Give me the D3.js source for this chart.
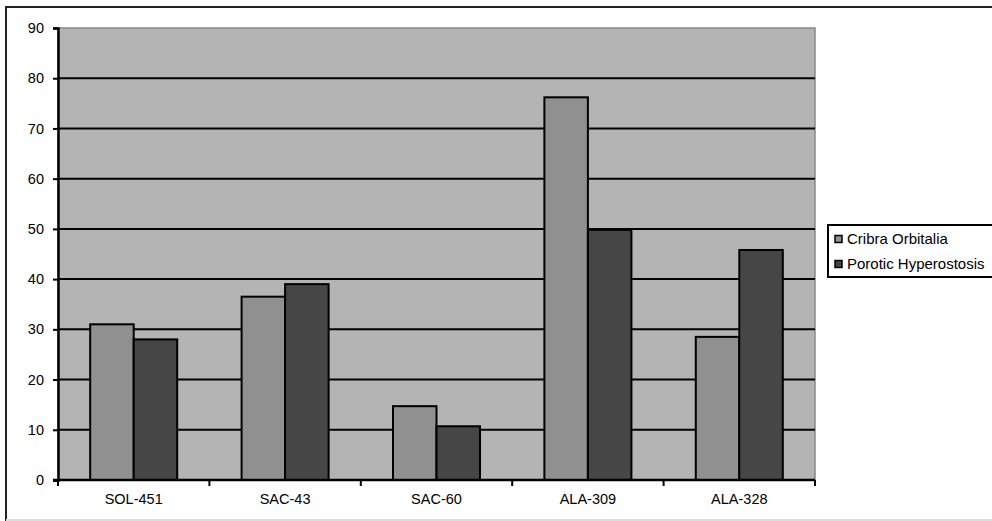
<!DOCTYPE html>
<html>
<head>
<meta charset="utf-8">
<script src="https://cdn.jsdelivr.net/npm/d3@7"></script>
<style>
  html, body { margin: 0; padding: 0; background: #ffffff; }
  svg { display: block; }
  text { font-family: "Liberation Sans", Arial, sans-serif; fill: #000; }
</style>
</head>
<body>
<svg id="chart" width="992" height="521"></svg>
<script>
// Sites and prevalence (%) of the two lesions
const sites = ["SOL-451", "SAC-43", "SAC-60", "ALA-309", "ALA-328"];
const seriesNames = ["Cribra Orbitalia", "Porotic Hyperostosis"];
const cribraOrbitalia = [31, 36.5, 14.7, 76.2, 28.5];
const poroticHyperostosis = [28, 39, 10.7, 49.8, 45.8];
const yTicks = [0, 10, 20, 30, 40, 50, 60, 70, 80, 90];

const seriesValues = [cribraOrbitalia, poroticHyperostosis];
const seriesColors = ["#909090", "#464646"];

const svg = d3.select("#chart");

// Outer frame
svg.append("rect")
  .attr("x", 6).attr("y", 7).attr("width", 992).attr("height", 513)
  .attr("fill", "#fff").attr("stroke", "#222").attr("stroke-width", 2);
svg.append("line")
  .attr("x1", 6).attr("x2", 992).attr("y1", 520).attr("y2", 520)
  .attr("stroke", "#ddd").attr("stroke-width", 2);

const plot = { left: 58, right: 815, top: 28, bottom: 480 };

const x = d3.scaleBand().domain(sites).range([plot.left, plot.right]).paddingInner(0).paddingOuter(0);
const x1 = d3.scaleBand().domain(seriesNames).range([0, x.bandwidth()]).paddingInner(0).paddingOuter(0.74);
const y = d3.scaleLinear().domain([0, 90]).range([plot.bottom, plot.top]);

// Plot background
svg.append("rect")
  .attr("x", plot.left).attr("y", plot.top)
  .attr("width", plot.right - plot.left).attr("height", plot.bottom - plot.top)
  .attr("fill", "#b4b4b4").attr("stroke", "#888").attr("stroke-width", 1.5);

// Horizontal gridlines
svg.append("g").selectAll("line")
  .data(yTicks.filter(d => d > 0 && d < 90))
  .join("line")
  .attr("x1", plot.left).attr("x2", plot.right)
  .attr("y1", d => y(d)).attr("y2", d => y(d))
  .attr("stroke", "#000").attr("stroke-width", 2);

// Bars
const groups = svg.append("g").selectAll("g")
  .data(sites)
  .join("g")
  .attr("transform", d => `translate(${x(d)},0)`);

groups.selectAll("rect")
  .data((d, i) => seriesNames.map((s, k) => ({ s, v: seriesValues[k][i], k })))
  .join("rect")
  .attr("x", d => x1(d.s))
  .attr("y", d => y(d.v))
  .attr("width", x1.bandwidth())
  .attr("height", d => y(0) - y(d.v))
  .attr("fill", d => seriesColors[d.k])
  .attr("stroke", "#000").attr("stroke-width", 2);

// Y axis
const yAxis = d3.axisLeft(y).tickValues(yTicks).tickSize(5).tickPadding(9);
const gy = svg.append("g").attr("transform", `translate(${plot.left},0)`).call(yAxis);
gy.select(".domain").attr("stroke", "#000").attr("stroke-width", 2.5);
gy.selectAll(".tick line").attr("stroke", "#000").attr("stroke-width", 2);
gy.selectAll(".tick text").attr("font-size", 14.5).attr("font-family", "Liberation Sans, Arial, sans-serif");

// X axis: ticks sit on category boundaries
const gx = svg.append("g").attr("transform", `translate(0,${plot.bottom})`);
gx.append("line")
  .attr("x1", plot.left - 5).attr("x2", plot.right)
  .attr("y1", 0).attr("y2", 0)
  .attr("stroke", "#000").attr("stroke-width", 2.5);
const boundaries = sites.map(s => x(s)).concat([x(sites[sites.length - 1]) + x.bandwidth()]);
gx.selectAll(".bt")
  .data(boundaries)
  .join("line")
  .attr("class", "bt")
  .attr("x1", d => d).attr("x2", d => d)
  .attr("y1", 0).attr("y2", 6)
  .attr("stroke", "#000").attr("stroke-width", 2);
gx.selectAll("text")
  .data(sites)
  .join("text")
  .attr("x", d => x(d) + x.bandwidth() / 2)
  .attr("y", 24)
  .attr("text-anchor", "middle")
  .attr("font-size", 14.5)
  .text(d => d);

// Legend
const legend = svg.append("g");
legend.append("rect")
  .attr("x", 828).attr("y", 225).attr("width", 170).attr("height", 52)
  .attr("fill", "#fff").attr("stroke", "#000").attr("stroke-width", 2);
seriesNames.forEach((name, k) => {
  const cy = 239 + k * 25;
  legend.append("rect")
    .attr("x", 835).attr("y", cy - 3.5).attr("width", 7).attr("height", 7)
    .attr("fill", seriesColors[k]).attr("stroke", "#000").attr("stroke-width", 1.5);
  legend.append("text")
    .attr("x", 847).attr("y", cy + 5)
    .attr("font-size", 15)
    .text(name);
});
</script>
</body>
</html>
